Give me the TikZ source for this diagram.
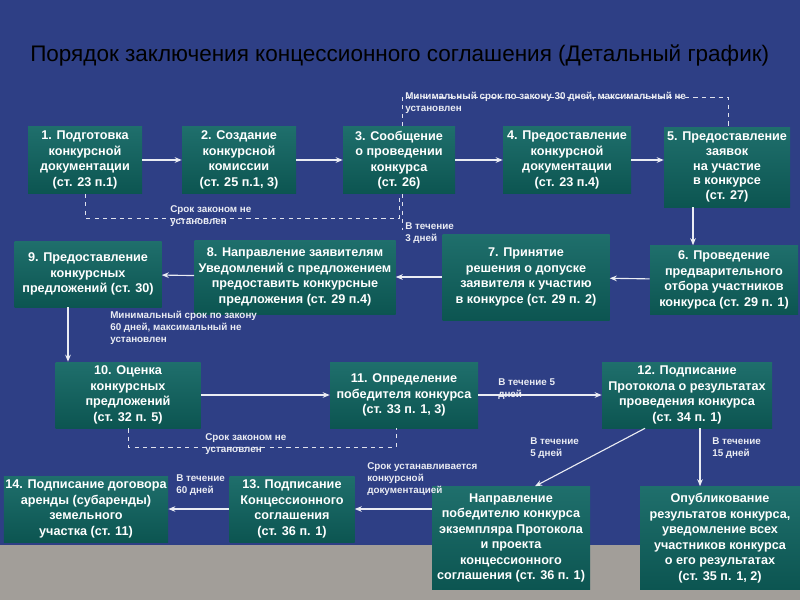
\documentclass[tikz,border=0pt]{standalone}
\usepackage{fontspec}
\setmainfont{Liberation Sans}
\usetikzlibrary{arrows.meta}
\definecolor{bg}{HTML}{2E3F85}
\definecolor{boxtop}{HTML}{1F6F6C}
\definecolor{boxbot}{HTML}{0C5551}
\definecolor{band}{HTML}{A29E99}
\tikzset{
 bx/.style={top color=boxtop,bottom color=boxbot,text=white,font=\bfseries\fontsize{9}{11}\selectfont,align=center,inner sep=1pt},
 arr/.style={draw=white!90!bg,line width=0.8pt,-{Stealth[length=5pt,width=4pt]}},
 dsh/.style={draw=white!85!bg,line width=0.6pt,dashed},
 lbl/.style={text=white!90!bg,font=\bfseries\fontsize{7}{8.5}\selectfont,align=left,anchor=north west,inner sep=0pt}
}
\begin{document}
\begin{tikzpicture}[x=0.025cm,y=-0.025cm]
\fill[bg] (0,0) rectangle (800,600);
\fill[band] (0,545) rectangle (800,600);
\useasboundingbox (0,0) rectangle (800,600);
\node[anchor=west,text=black,font=\fontsize{16}{19}\selectfont,inner sep=0pt] (title) at (30,55) {Порядок заключения концессионного соглашения (Детальный график)};
\node[bx,minimum width=114*0.025cm,minimum height=67*0.025cm] (b1) at (85,160) {1. Подготовка\\конкурсной\\документации\\(ст. 23 п.1)};
\node[bx,minimum width=114*0.025cm,minimum height=67*0.025cm] (b2) at (239,160) {2. Создание\\конкурсной\\комиссии\\(ст. 25 п.1, 3)};
\node[bx,minimum width=112*0.025cm,minimum height=67*0.025cm] (b3) at (399,160) {3. Сообщение\\о проведении\\конкурса\\(ст. 26)};
\node[bx,minimum width=128*0.025cm,minimum height=67*0.025cm] (b4) at (567,160) {4. Предоставление\\конкурсной\\документации\\(ст. 23 п.4)};
\node[bx,minimum width=126*0.025cm,minimum height=80*0.025cm,font=\bfseries\fontsize{9}{10.5}\selectfont] (b5) at (727,167) {5. Предоставление\\заявок\\на участие\\в конкурсе\\(ст. 27)};
\node[bx,minimum width=148*0.025cm,minimum height=69*0.025cm] (b6) at (724,280) {6. Проведение\\предварительного\\отбора участников\\конкурса (ст. 29 п. 1)};
\node[bx,minimum width=167*0.025cm,minimum height=86*0.025cm] (b7) at (526,277) {7. Принятие\\решения о допуске\\заявителя к участию\\в конкурсе (ст. 29 п. 2)};
\node[bx,minimum width=201*0.025cm,minimum height=74*0.025cm] (b8) at (295,277) {8. Направление заявителям\\Уведомлений с предложением\\предоставить конкурсные\\предложения (ст. 29 п.4)};
\node[bx,minimum width=147*0.025cm,minimum height=66*0.025cm] (b9) at (88,274) {9. Предоставление\\конкурсных\\предложений (ст. 30)};
\node[bx,minimum width=145*0.025cm,minimum height=66*0.025cm] (b10) at (128,395) {10. Оценка\\конкурсных\\предложений\\(ст. 32 п. 5)};
\node[bx,minimum width=148*0.025cm,minimum height=66*0.025cm] (b11) at (404,395) {11. Определение\\победителя конкурса\\(ст. 33 п. 1, 3)};
\node[bx,minimum width=170*0.025cm,minimum height=66*0.025cm] (b12) at (687,395) {12. Подписание\\Протокола о результатах\\проведения конкурса\\(ст. 34 п. 1)};
\node[bx,minimum width=125*0.025cm,minimum height=66*0.025cm] (b13) at (292,509) {13. Подписание\\Концессионного\\соглашения\\(ст. 36 п. 1)};
\node[bx,minimum width=163*0.025cm,minimum height=66*0.025cm] (b14) at (86,509) {14. Подписание договора\\аренды (субаренды)\\земельного\\участка (ст. 11)};
\node[bx,minimum width=158*0.025cm,minimum height=103*0.025cm] (bn) at (511,538) {Направление\\победителю конкурса\\экземпляра Протокола\\и проекта\\концессионного\\соглашения (ст. 36 п. 1)};
\node[bx,minimum width=160*0.025cm,minimum height=103*0.025cm] (bo) at (720,538) {Опубликование\\результатов конкурса,\\уведомление всех\\участников конкурса\\о его результатах\\(ст. 35 п. 1, 2)};
% arrows
\draw[arr] (b1) -- (b2);
\draw[arr] (b2) -- (b3);
\draw[arr] (b3) -- (b4);
\draw[arr] (b4) -- (b5.west |- b4);
\draw[arr] (b5.south -| 693,0) -- (b6.north -| 693,0);
\draw[arr] (b6) -- (b7);
\draw[arr] (b7) -- (b8);
\draw[arr] (b8) -- (b9);
\draw[arr] (b9.south -| 68,0) -- (b10.north -| 68,0);
\draw[arr] (b10) -- (b11);
\draw[arr] (b11) -- (b12);
\draw[arr] (b12.south -| 645,0) -- (bn.north -| 535,0);
\draw[arr] (b12.south -| 700,0) -- (bo.north -| 700,0);
\draw[arr] (bn.west |- b13) -- (b13);
\draw[arr] (b13) -- (b14);
% dashed
\draw[dsh] (b1.south) -- (85,218) -- (399,218) -- (b3.south);
\draw[dsh] (b3.south) ++(3,0) -- (402,230);
\draw[dsh] (b3.north) ++(3,0) -- (402,97) -- (728,97) -- (b5.north -| 728,0);
\draw[dsh] (b10.south) -- (128,447) -- (396,447) -- (b11.south -| 396,0);
% labels
\node[lbl] (l1) at (405,92) {Минимальный срок по закону 30 дней, максимальный не\\установлен};
\node[lbl] (l2) at (170,205) {Срок законом не\\установлен};
\node[lbl] (l3) at (405,222) {В течение\\3 дней};
\node[lbl] (l4) at (110,311) {Минимальный срок по закону\\60 дней, максимальный не\\установлен};
\node[lbl] (l5) at (498,378) {В течение 5\\дней};
\node[lbl] (l6) at (205,433) {Срок законом не\\установлен};
\node[lbl] (l7) at (530,437) {В течение\\5 дней};
\node[lbl] (l8) at (712,437) {В течение\\15 дней};
\node[lbl] (l9) at (367,462) {Срок устанавливается\\конкурсной\\документацией};
\node[lbl] (l10) at (176,474) {В течение\\60 дней};
\end{tikzpicture}
\end{document}
